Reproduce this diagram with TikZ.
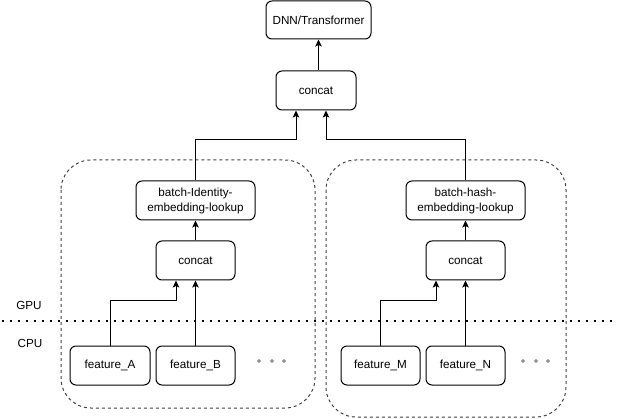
\documentclass[tikz,border=0pt]{standalone}
\usepackage{fontspec}
\setmainfont{Liberation Sans}
\usetikzlibrary{arrows.meta}
\begin{document}
\begin{tikzpicture}[x=1pt,y=-1pt,
  box/.style={draw, line width=1pt, rounded corners=6pt, align=center,
    inner sep=0pt, font=\fontsize{11.7}{15}\selectfont},
  arr/.style={draw, line width=1pt, -{Stealth[length=7pt,width=6.5pt,inset=1.5pt]}},
  grp/.style={draw=black!75, line width=1pt, dash pattern=on 3pt off 3pt, rounded corners=30pt},
  lbl/.style={font=\fontsize{11.7}{14}\selectfont, inner sep=0pt},
  dot/.style={draw=black!60, line width=0.8pt}]
\useasboundingbox (0,0) rectangle (618,419);
% groups
\draw[grp] (61,160) rectangle (315,408);
\draw[grp] (326,160) rectangle (566,417);
% separator
\draw[line width=2pt, dash pattern=on 2pt off 6pt] (2,321) -- (618,321);
\node[lbl] (gpu) at (29,305) {GPU};
\node[lbl] (cpu) at (30,343) {CPU};
% nodes
\node[box, minimum width=105pt, minimum height=38pt] (dnn) at (318.5,20) {DNN/Transformer};
\node[box, minimum width=80pt, minimum height=39pt] (tc) at (316,90.5) {concat};
\node[box, minimum width=119pt, minimum height=39pt] (bil) at (195.5,200.5) {batch-Identity-\\embedding-lookup};
\node[box, minimum width=79pt, minimum height=39pt] (lc) at (195.5,260.5) {concat};
\node[box, minimum width=119pt, minimum height=39pt] (bh) at (465.5,200.5) {batch-hash-\\embedding-lookup};
\node[box, minimum width=79pt, minimum height=39pt] (rc) at (465.5,260.5) {concat};
\node[box, minimum width=80pt, minimum height=39pt] (fa) at (110,365.5) {feature\_A};
\node[box, minimum width=79pt, minimum height=39pt] (fb) at (195.5,365.5) {feature\_B};
\node[box, minimum width=79pt, minimum height=39pt] (fm) at (380.5,365.5) {feature\_M};
\node[box, minimum width=79pt, minimum height=39pt] (fn) at (465.5,365.5) {feature\_N};
% bend coordinates
\coordinate (j1) at (296,140);
\coordinate (j2) at (326,140);
\coordinate (j3) at (176,301);
\coordinate (j4) at (436,301);
% connectors
\draw[arr] (tc.north -| dnn.south) -- (dnn.south);
\draw[arr] (bil.north) |- (j1) -- (tc.south -| j1);
\draw[arr] (bh.north) |- (j2) -- (tc.south -| j2);
\draw[arr] (lc.north) -- (bil.south);
\draw[arr] (rc.north) -- (bh.south);
\draw[arr] (fa.north) |- (j3) -- (lc.south -| j3);
\draw[arr] (fb.north) -- (lc.south);
\draw[arr] (fm.north) |- (j4) -- (rc.south -| j4);
\draw[arr] (fn.north) -- (rc.south);
% ellipsis dots
\foreach \x in {259,272,284} \draw[dot] (\x,361) circle (1.4pt);
\foreach \x in {523,536,548} \draw[dot] (\x,361) circle (1.4pt);
\end{tikzpicture}
\end{document}
